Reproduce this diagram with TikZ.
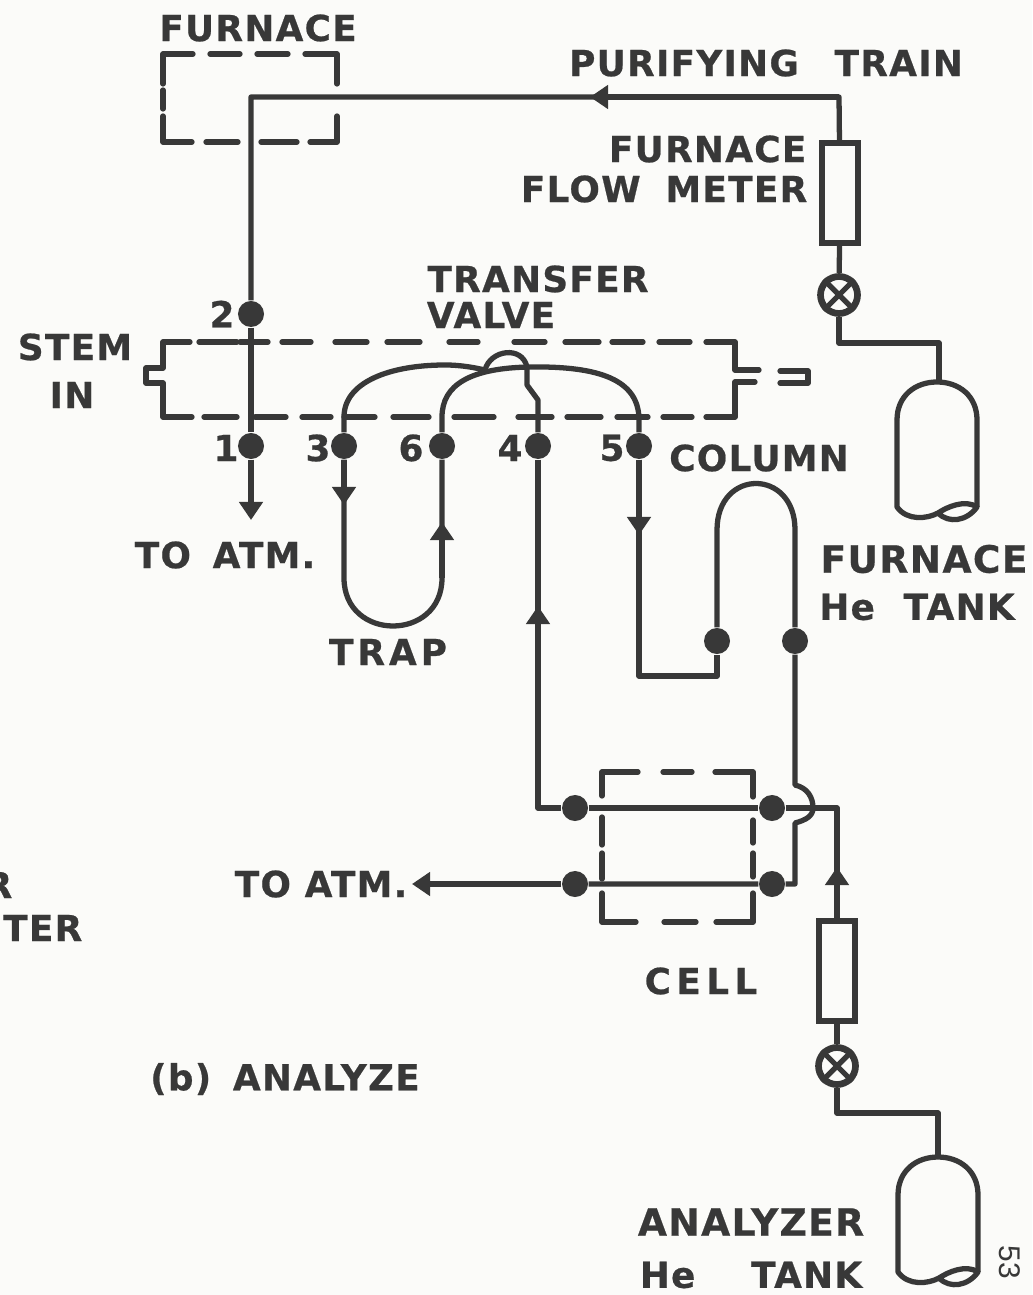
\documentclass[tikz,border=0pt]{standalone}
\usepackage{fontspec}
\setmainfont{DejaVu Sans}
\newfontfamily\lblfont[LetterSpace=3.5,FakeBold=0.6]{DejaVu Sans Bold}
\newfontfamily\lblwidefont[LetterSpace=15,FakeBold=0.6]{DejaVu Sans Bold}
\newfontfamily\lbltrapfont[LetterSpace=11,FakeBold=0.6]{DejaVu Sans Bold}
\newfontfamily\pagefont{Liberation Sans}
\definecolor{dgInk}{HTML}{383838}
\definecolor{dgPaper}{HTML}{FBFBF9}
\usetikzlibrary{calc,positioning,arrows.meta}
\tikzset{
  pipe/.style={draw=dgInk, line width=1.5pt, line join=round},
  dashstroke/.style={draw=dgInk, line width=1.5pt, line join=round, line cap=round},
  tipline/.style={pipe, -{Triangle[length=0.18cm,width=0.23cm]}},
  joint/.style={circle, fill=dgInk, minimum size=0.26cm, inner sep=0pt},
  flowbox/.style={draw=dgInk, line width=1.5pt, fill=dgPaper, minimum width=0.36cm, minimum height=1cm, inner sep=0pt},
  valvebody/.style={circle, draw=dgInk, line width=1.9pt, fill=dgPaper, minimum size=0.37cm, inner sep=0pt},
  lbl/.style={font=\lblfont\fontsize{10.2}{12}\selectfont, text=dgInk, inner sep=0pt},
  lblwide/.style={font=\lblwidefont\fontsize{10.2}{12}\selectfont, text=dgInk, inner sep=0pt},
}
\begin{document}
\begin{tikzpicture}[x=0.01cm, y=-0.01cm]
  \fill[dgPaper] (0,0) rectangle (1032,1295);
  \useasboundingbox (0,0) rectangle (1032,1295);
  % text
  \node[lbl] (lblFurnaceTop) at (258,28) {FURNACE};
  \node[lbl] (lblTrain) at (766,63) {PURIFYING\hspace{0.22cm} TRAIN};
  \node[lbl, anchor=east] (lblFurnaceMeter) at (807,149) {FURNACE};
  \node[lbl, anchor=east] (lblFlowMeter) at (808,189) {FLOW\hspace{0.11cm} METER};
  \node[lbl] (lblTransfer) at (538,279) {TRANSFER};
  \node[lbl] (lblValve) at (491,315) {VALVE};
  \node[lbl] (lblStem) at (75,347) {STEM};
  \node[lbl] (lblIn) at (72,395) {IN};
  \node[lbl] (lblTwo) at (222,314) {2};
  \node[lbl] (lblOne) at (226,448) {1};
  \node[lbl] (lblThree) at (318,448) {3};
  \node[lbl] (lblSix) at (411,448) {6};
  \node[lbl] (lblFour) at (510,448) {4};
  \node[lbl] (lblFive) at (612,448) {5};
  \node[lbl] (lblColumn) at (759,458) {COLUMN};
  \node[lbl] (lblAtmOne) at (225,555) {TO\hspace{0.08cm} ATM.};
  \node[lbl, font=\lblfont\fontsize{10.7}{12}\selectfont] (lblTankOne) at (924,559) {FURNACE};
  \node[lbl] (lblTankTwo) at (917,607) {He\hspace{0.15cm} TANK};
  \node[lbl, font=\lbltrapfont\fontsize{10.2}{12}\selectfont] (lblTrap) at (388,652) {TRAP};
  \node[lbl] (lblAtmTwo) at (321,884) {TO ATM.};
  \node[lblwide] (lblCell) at (701,981) {CELL};
  \node[lbl] (lblAnalyze) at (285,1079) {(b)\hspace{0.08cm} ANALYZE\hspace{0.09cm}};
  \node[lbl, font=\lblfont\fontsize{10.7}{12}\selectfont] (lblAnalyzer) at (751,1222) {ANALYZER};
  \node[lbl] (lblHeTank) at (751,1275) {He\hspace{0.42cm} TANK};
  \node[lbl, anchor=east] (lblCutR) at (13,885) {R};
  \node[lbl, anchor=east] (lblCutTer) at (83,928) {TER};
  \node[font=\pagefont\fontsize{8.5}{10}\selectfont, text=dgInk, rotate=-90, inner sep=0pt] (lblPage) at (1010,1262) {53};
  % furnace box
  \draw[dashstroke] (193,54) -- (163,54) -- (163,84);
  \draw[dashstroke] (305,54) -- (337,54) -- (337,84);
  \draw[dashstroke] (163,116) -- (163,142) -- (192,142);
  \draw[dashstroke] (337,116) -- (337,142) -- (310,142);
  \foreach \a/\b in {210/240,257/288} \draw[dashstroke] (\a,54) -- (\b,54);
  \foreach \a/\b in {206/238,261/297} \draw[dashstroke] (\a,142) -- (\b,142);
  \draw[dashstroke] (163,90) -- (163,109);
  % transfer valve
  \draw[dashstroke] (190,342) -- (163,342) -- (163,368) -- (146,368) -- (146,383) -- (163,383) -- (163,417) -- (192,417);
  \draw[dashstroke] (706,342) -- (735,342) -- (735,370) -- (759,370);
  \draw[dashstroke] (755,382) -- (735,382) -- (735,417) -- (706,417);
  \draw[dashstroke] (780,371) -- (808,371) -- (808,383) -- (780,383);
  \foreach \a/\b in {199/237,240/268,282/311,335/367,387/420,449/478,514/545,565/599,612/643,659/690}
    \draw[dashstroke] (\a,342) -- (\b,342);
  \foreach \a/\b in {204/237,255/286,302/331,344/375,393/429,454/494,518/552,567/601,617/648,663/692}
    \draw[dashstroke] (\a,417) -- (\b,417);
  % cell
  \draw[dashstroke] (638,772) -- (602,772) -- (602,796);
  \draw[dashstroke] (715,772) -- (753,772) -- (753,797);
  \draw[dashstroke] (602,893) -- (602,922) -- (636,922);
  \draw[dashstroke] (753,893) -- (753,922) -- (716,922);
  \draw[dashstroke] (663,772) -- (692,772);
  \draw[dashstroke] (664,922) -- (696,922);
  \foreach \a/\b in {817/845,853/879} \draw[dashstroke] (602,\a) -- (602,\b);
  \foreach \a/\b in {820/843,853/877} \draw[dashstroke] (753,\a) -- (753,\b);
  % joints
  \node[joint] (dotTwo) at (251,314) {};
  \node[joint] (dotOne) at (251,446) {};
  \node[joint] (dotThree) at (344,446) {};
  \node[joint] (dotSix) at (442,446) {};
  \node[joint] (dotFour) at (538,446) {};
  \node[joint] (dotFive) at (639,446) {};
  \node[joint] (colLeft) at (717,641) {};
  \node[joint] (colRight) at (795,641) {};
  \node[joint] (cellA) at (575,808) {};
  \node[joint] (cellB) at (772,808) {};
  \node[joint] (cellC) at (575,884) {};
  \node[joint] (cellD) at (772,884) {};
  % flow meters, valves
  \node[flowbox] (meterTop) at (840,193) {};
  \node[flowbox] (meterLow) at (837,971) {};
  \node[valvebody] (valveTop) at (839,295) {};
  \node[valvebody] (valveLow) at (837,1066) {};
  \foreach \v in {valveTop,valveLow} {
    \draw[pipe] (\v.45) -- (\v.225);
    \draw[pipe] (\v.135) -- (\v.315);
  }
  % tanks
  \coordinate (tankTop) at (937,382);
  \coordinate (tankLow) at (938,1157);
  \foreach \t/\h in {tankTop/125,tankLow/115} {
    \draw[pipe] ($(\t)+(-40,38)$) .. controls ($(\t)+(-40,14)$) and ($(\t)+(-22,0)$) .. (\t)
      .. controls ($(\t)+(22,0)$) and ($(\t)+(40,14)$) .. ($(\t)+(40,38)$) -- ($(\t)+(40,\h)$);
    \draw[pipe] ($(\t)+(-40,38)$) -- ($(\t)+(-40,\h)$)
      .. controls ($(\t)+(-30,\h+14)$) and ($(\t)+(-10,\h+12)$) .. ($(\t)+(1,\h+6)$)
      .. controls ($(\t)+(10,\h)$) and ($(\t)+(28,\h-8)$) .. ($(\t)+(40,\h)$)
      .. controls ($(\t)+(30,\h+14)$) and ($(\t)+(12,\h+17)$) .. ($(\t)+(1,\h+6)$);
  }
  % purifying line
  \coordinate (trainCorner) at (839,97);
  \coordinate (stemCorner) at (251,97);
  \coordinate (tipTrain) at (590,97);
  \coordinate (tipOut) at (251,520);
  \draw[pipe] (meterTop) -- (trainCorner) -- (stemCorner) -- (dotTwo);
  \draw[tipline] (trainCorner) -- (tipTrain);
  \draw[pipe] (meterTop) -- (valveTop);
  \draw[pipe] (valveTop) -- (839,343) -- (939,343) -- (939,382);
  \draw[pipe] (dotTwo) -- (dotOne);
  \draw[tipline] (dotOne) -- (tipOut);
  % valve passages
  \draw[pipe] (dotThree) -- (344,417) .. controls (344,382) and (390,365) .. (445,365)
    .. controls (462,365) and (476,368) .. (485,370) .. controls (490,350) and (522,345) .. (527,367)
    -- (527,385) -- (538,400) -- (dotFour);
  \draw[pipe] (dotSix) -- (442,417) .. controls (442,385) and (470,368) .. (530,367)
    .. controls (600,366) and (639,380) .. (639,420) -- (dotFive);
  % trap
  \coordinate (tipThree) at (344,505);
  \coordinate (tipSix) at (442,522);
  \draw[pipe] (dotThree) -- (344,578) .. controls (344,642) and (442,642) .. (442,578) -- (dotSix);
  \draw[tipline] (dotThree) -- (tipThree);
  \draw[tipline] (442,578) -- (tipSix);
  % column
  \coordinate (tipFive) at (639,535);
  \draw[pipe] (dotFive) -- (639,676) -- (717,676) -- (colLeft);
  \draw[tipline] (dotFive) -- (tipFive);
  \draw[pipe] (colLeft) -- (717,530) .. controls (717,468) and (795,468) .. (795,530) -- (colRight);
  % cell
  \coordinate (tipFour) at (538,606);
  \coordinate (tipMeter) at (837,867);
  \coordinate (tipAtm) at (412,884);
  \draw[pipe] (dotFour) -- (538,808) -- (cellA) -- (cellB) -- (837,808) -- (meterLow);
  \draw[tipline] (538,700) -- (tipFour);
  \draw[tipline] (meterLow) -- (tipMeter);
  \draw[pipe] (colRight) -- (795,785) .. controls (808,788) and (813,798) .. (813,808)
    .. controls (813,816) and (806,820) .. (795,823) -- (795,884) -- (cellD) -- (cellC);
  \draw[tipline] (cellC) -- (tipAtm);
  \draw[pipe] (meterLow) -- (valveLow);
  \draw[pipe] (valveLow) -- (837,1113) -- (938,1113) -- (tankLow);
\end{tikzpicture}
\end{document}
